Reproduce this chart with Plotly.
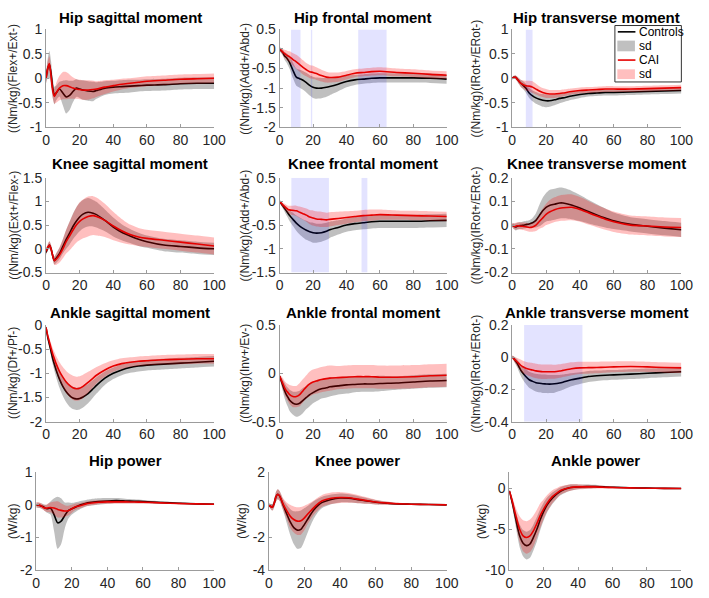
import plotly.graph_objects as go

W, H = 709, 598

# common sampling of the gait-cycle percentage
X = [0, 1, 2, 3, 4, 5, 6, 8, 10, 12, 14, 16, 18, 20, 22, 25, 28, 30, 35, 40, 45, 50, 55, 60, 70, 80, 90, 100]

titles = ["Hip sagittal moment", "Hip frontal moment", "Hip transverse moment",
          "Knee sagittal moment", "Knee frontal moment", "Knee transverse moment",
          "Ankle sagittal moment", "Ankle frontal moment", "Ankle transverse moment",
          "Hip power", "Knee power", "Ankle power"]
ylabels = ["((Nm/kg)(Flex+/Ext-)", "((Nm/kg)(Add+/Abd-)", "((Nm/kg)(IRot+/ERot-)",
           "((Nm/kg)(Ext+/Flex-)", "((Nm/kg)(Add+/Abd-)", "((Nm/kg)(IRot+/ERot-)",
           "((Nm/kg)(Df+/Pf-)", "((Nm/kg)(Inv+/Ev-)", "((Nm/kg)(IRot+/ERot-)",
           "(W/kg)", "(W/kg)", "(W/kg)"]
yranges = [[-1, 1], [-2, 0.5], [-1, 1],
           [-0.5, 1.5], [-1.5, 0.5], [-0.2, 0.2],
           [-2, 0], [-0.5, 0.5], [-0.4, 0.2],
           [-2, 1], [-4, 2], [-10, 2]]
yticks = [[-1, -0.5, 0, 0.5, 1], [-2, -1.5, -1, -0.5, 0, 0.5], [-1, -0.5, 0, 0.5, 1],
          [-0.5, 0, 0.5, 1, 1.5], [-1.5, -1, -0.5, 0, 0.5], [-0.2, -0.1, 0, 0.1, 0.2],
          [-2, -1.5, -1, -0.5, 0], [-0.5, 0, 0.5], [-0.4, -0.2, 0, 0.2],
          [-2, -1, 0, 1], [-4, -2, 0, 2], [-10, -5, 0]]
xticks = [0, 20, 40, 60, 80, 100]

# ---- Hip sagittal moment
hip_sag_ctrl = [0.0, 0.2, 0.28, 0.1, -0.2, -0.35, -0.3, -0.22, -0.3, -0.38, -0.35, -0.27, -0.2, -0.22, -0.24, -0.26, -0.27, -0.25, -0.2, -0.18, -0.17, -0.16, -0.15, -0.14, -0.13, -0.11, -0.1, -0.1]
hip_sag_ctrl_sd = [0.1, 0.2, 0.28, 0.25, 0.2, 0.18, 0.15, 0.15, 0.25, 0.34, 0.3, 0.22, 0.18, 0.18, 0.2, 0.2, 0.2, 0.17, 0.14, 0.13, 0.13, 0.13, 0.12, 0.12, 0.12, 0.12, 0.12, 0.12]
hip_sag_cai = [0.0, 0.2, 0.3, 0.05, -0.25, -0.37, -0.3, -0.2, -0.15, -0.15, -0.17, -0.2, -0.22, -0.23, -0.24, -0.24, -0.23, -0.22, -0.18, -0.15, -0.12, -0.1, -0.08, -0.06, -0.04, -0.02, -0.01, 0.0]
hip_sag_cai_sd = [0.1, 0.15, 0.15, 0.15, 0.15, 0.15, 0.2, 0.25, 0.28, 0.28, 0.25, 0.22, 0.2, 0.2, 0.2, 0.2, 0.18, 0.16, 0.14, 0.12, 0.11, 0.1, 0.1, 0.1, 0.1, 0.1, 0.1, 0.1]
hip_sag_sig = []

# ---- Hip frontal moment
hip_fro_ctrl = [0.0, -0.05, -0.1, -0.18, -0.22, -0.28, -0.35, -0.55, -0.72, -0.76, -0.8, -0.86, -0.93, -0.98, -1.0, -1.0, -0.98, -0.96, -0.9, -0.83, -0.79, -0.77, -0.75, -0.74, -0.74, -0.74, -0.75, -0.77]
hip_fro_ctrl_sd = [0.05, 0.06, 0.08, 0.1, 0.12, 0.14, 0.16, 0.2, 0.22, 0.23, 0.24, 0.25, 0.26, 0.27, 0.27, 0.26, 0.24, 0.22, 0.18, 0.15, 0.13, 0.12, 0.12, 0.12, 0.12, 0.12, 0.12, 0.12]
hip_fro_cai = [0.0, -0.04, -0.08, -0.12, -0.15, -0.18, -0.2, -0.27, -0.33, -0.4, -0.47, -0.53, -0.58, -0.6, -0.63, -0.68, -0.72, -0.73, -0.72, -0.67, -0.62, -0.6, -0.58, -0.57, -0.6, -0.62, -0.65, -0.67]
hip_fro_cai_sd = [0.05, 0.06, 0.08, 0.1, 0.12, 0.13, 0.14, 0.16, 0.18, 0.18, 0.18, 0.17, 0.17, 0.17, 0.16, 0.15, 0.14, 0.13, 0.12, 0.11, 0.1, 0.1, 0.1, 0.1, 0.1, 0.1, 0.1, 0.1]
hip_fro_sig = [[6.8, 12.5], [18.7, 19.5], [47, 64]]

# ---- Hip transverse moment
hip_tra_ctrl = [0.0, 0.02, 0.02, -0.02, -0.06, -0.1, -0.13, -0.2, -0.3, -0.36, -0.4, -0.43, -0.45, -0.46, -0.46, -0.44, -0.41, -0.4, -0.36, -0.33, -0.31, -0.3, -0.29, -0.29, -0.28, -0.27, -0.26, -0.25]
hip_tra_ctrl_sd = [0.03, 0.03, 0.04, 0.05, 0.06, 0.07, 0.08, 0.09, 0.1, 0.11, 0.12, 0.12, 0.13, 0.13, 0.12, 0.11, 0.1, 0.09, 0.08, 0.07, 0.06, 0.06, 0.06, 0.06, 0.06, 0.06, 0.06, 0.06]
hip_tra_cai = [0.0, 0.02, 0.02, -0.02, -0.06, -0.1, -0.12, -0.15, -0.16, -0.18, -0.22, -0.26, -0.29, -0.31, -0.32, -0.32, -0.31, -0.3, -0.27, -0.25, -0.24, -0.23, -0.22, -0.22, -0.22, -0.21, -0.2, -0.19]
hip_tra_cai_sd = [0.03, 0.03, 0.04, 0.05, 0.06, 0.07, 0.08, 0.1, 0.11, 0.12, 0.11, 0.1, 0.09, 0.09, 0.08, 0.08, 0.07, 0.07, 0.06, 0.06, 0.06, 0.06, 0.06, 0.06, 0.06, 0.06, 0.06, 0.06]
hip_tra_sig = [[8, 12]]

# ---- Knee sagittal moment
knee_sag_ctrl = [-0.08, 0.02, 0.08, 0.0, -0.15, -0.25, -0.2, -0.1, 0.05, 0.2, 0.33, 0.47, 0.58, 0.67, 0.73, 0.77, 0.75, 0.72, 0.6, 0.46, 0.35, 0.27, 0.2, 0.15, 0.08, 0.05, 0.02, 0.0]
knee_sag_ctrl_sd = [0.05, 0.06, 0.08, 0.08, 0.08, 0.08, 0.1, 0.12, 0.15, 0.2, 0.24, 0.27, 0.29, 0.3, 0.3, 0.3, 0.28, 0.27, 0.23, 0.2, 0.17, 0.15, 0.14, 0.13, 0.13, 0.13, 0.13, 0.13]
knee_sag_cai = [-0.05, 0.03, 0.08, 0.0, -0.15, -0.25, -0.22, -0.13, 0.0, 0.15, 0.27, 0.39, 0.5, 0.58, 0.63, 0.68, 0.7, 0.68, 0.6, 0.48, 0.38, 0.3, 0.25, 0.22, 0.18, 0.14, 0.1, 0.06]
knee_sag_cai_sd = [0.06, 0.07, 0.08, 0.08, 0.08, 0.09, 0.12, 0.16, 0.2, 0.25, 0.3, 0.34, 0.37, 0.4, 0.41, 0.42, 0.41, 0.4, 0.35, 0.3, 0.25, 0.21, 0.19, 0.18, 0.18, 0.18, 0.18, 0.18]
knee_sag_sig = []

# ---- Knee frontal moment
knee_fro_ctrl = [0.0, -0.05, -0.1, -0.15, -0.2, -0.25, -0.3, -0.38, -0.46, -0.52, -0.57, -0.61, -0.64, -0.66, -0.67, -0.66, -0.63, -0.6, -0.55, -0.5, -0.47, -0.45, -0.43, -0.42, -0.42, -0.42, -0.41, -0.4]
knee_fro_ctrl_sd = [0.03, 0.04, 0.05, 0.07, 0.09, 0.1, 0.12, 0.14, 0.16, 0.18, 0.19, 0.2, 0.2, 0.21, 0.2, 0.19, 0.18, 0.17, 0.15, 0.14, 0.14, 0.14, 0.14, 0.14, 0.14, 0.14, 0.14, 0.14]
knee_fro_cai = [0.0, -0.04, -0.08, -0.11, -0.14, -0.17, -0.18, -0.19, -0.2, -0.23, -0.26, -0.29, -0.33, -0.35, -0.37, -0.38, -0.39, -0.38, -0.36, -0.34, -0.32, -0.3, -0.29, -0.28, -0.29, -0.3, -0.31, -0.32]
knee_fro_cai_sd = [0.03, 0.04, 0.05, 0.06, 0.07, 0.08, 0.09, 0.1, 0.11, 0.12, 0.13, 0.14, 0.15, 0.16, 0.16, 0.16, 0.15, 0.15, 0.14, 0.13, 0.12, 0.12, 0.12, 0.11, 0.1, 0.1, 0.1, 0.1]
knee_fro_sig = [[7, 29.5], [49, 52.5]]

# ---- Knee transverse moment
knee_tra_ctrl = [0.0, -0.005, -0.008, -0.005, -0.003, -0.002, -0.001, 0.002, 0.005, 0.01, 0.02, 0.04, 0.06, 0.075, 0.083, 0.088, 0.093, 0.093, 0.085, 0.072, 0.057, 0.043, 0.03, 0.018, 0.003, -0.005, -0.013, -0.02]
knee_tra_ctrl_sd = [0.01, 0.012, 0.015, 0.015, 0.015, 0.015, 0.015, 0.015, 0.015, 0.02, 0.03, 0.045, 0.055, 0.06, 0.065, 0.065, 0.065, 0.064, 0.06, 0.055, 0.05, 0.045, 0.04, 0.035, 0.03, 0.03, 0.03, 0.03]
knee_tra_cai = [0.0, -0.005, -0.005, -0.003, -0.003, -0.005, -0.005, -0.007, -0.01, -0.008, 0.0, 0.015, 0.03, 0.045, 0.055, 0.065, 0.071, 0.073, 0.075, 0.066, 0.052, 0.038, 0.025, 0.014, 0.0, -0.004, -0.008, -0.01]
knee_tra_cai_sd = [0.01, 0.012, 0.015, 0.015, 0.015, 0.015, 0.016, 0.017, 0.018, 0.02, 0.025, 0.03, 0.04, 0.045, 0.05, 0.052, 0.054, 0.055, 0.055, 0.052, 0.05, 0.047, 0.045, 0.043, 0.04, 0.04, 0.04, 0.04]
knee_tra_sig = []

# ---- Ankle sagittal moment
ank_sag_ctrl = [-0.05, -0.25, -0.4, -0.55, -0.7, -0.82, -0.93, -1.12, -1.27, -1.38, -1.46, -1.51, -1.53, -1.52, -1.49, -1.42, -1.32, -1.25, -1.1, -1.0, -0.93, -0.88, -0.85, -0.83, -0.81, -0.79, -0.77, -0.75]
ank_sag_ctrl_sd = [0.03, 0.05, 0.07, 0.09, 0.11, 0.13, 0.15, 0.18, 0.2, 0.22, 0.23, 0.23, 0.23, 0.23, 0.22, 0.2, 0.18, 0.17, 0.14, 0.12, 0.11, 0.11, 0.11, 0.11, 0.11, 0.11, 0.11, 0.11]
ank_sag_cai = [-0.05, -0.22, -0.35, -0.48, -0.6, -0.7, -0.8, -0.96, -1.08, -1.18, -1.25, -1.3, -1.32, -1.31, -1.27, -1.19, -1.1, -1.04, -0.93, -0.85, -0.8, -0.77, -0.75, -0.74, -0.72, -0.71, -0.7, -0.7]
ank_sag_cai_sd = [0.03, 0.06, 0.08, 0.1, 0.12, 0.14, 0.16, 0.19, 0.21, 0.23, 0.24, 0.25, 0.25, 0.25, 0.24, 0.22, 0.19, 0.17, 0.14, 0.12, 0.11, 0.1, 0.1, 0.1, 0.1, 0.1, 0.1, 0.1]
ank_sag_sig = []

# ---- Ankle frontal moment
ank_fro_ctrl = [-0.03, -0.08, -0.13, -0.18, -0.22, -0.25, -0.28, -0.31, -0.32, -0.31, -0.28, -0.25, -0.22, -0.2, -0.18, -0.16, -0.15, -0.14, -0.13, -0.12, -0.115, -0.11, -0.11, -0.105, -0.1, -0.09, -0.08, -0.075]
ank_fro_ctrl_sd = [0.02, 0.04, 0.06, 0.08, 0.09, 0.1, 0.11, 0.12, 0.13, 0.13, 0.13, 0.12, 0.12, 0.11, 0.11, 0.1, 0.1, 0.1, 0.09, 0.09, 0.08, 0.08, 0.08, 0.08, 0.07, 0.07, 0.07, 0.07]
ank_fro_cai = [-0.03, -0.07, -0.11, -0.15, -0.18, -0.2, -0.22, -0.24, -0.24, -0.22, -0.18, -0.14, -0.11, -0.09, -0.08, -0.065, -0.055, -0.05, -0.045, -0.04, -0.035, -0.035, -0.035, -0.04, -0.04, -0.035, -0.025, -0.02]
ank_fro_cai_sd = [0.02, 0.04, 0.06, 0.07, 0.08, 0.09, 0.1, 0.11, 0.11, 0.12, 0.12, 0.12, 0.13, 0.13, 0.13, 0.13, 0.13, 0.13, 0.12, 0.12, 0.12, 0.12, 0.12, 0.12, 0.12, 0.12, 0.12, 0.12]
ank_fro_sig = []

# ---- Ankle transverse moment
ank_tra_ctrl = [0.0, -0.01, -0.025, -0.04, -0.06, -0.08, -0.095, -0.12, -0.14, -0.15, -0.158, -0.162, -0.165, -0.166, -0.167, -0.165, -0.16, -0.155, -0.14, -0.13, -0.12, -0.115, -0.112, -0.11, -0.105, -0.1, -0.095, -0.09]
ank_tra_ctrl_sd = [0.01, 0.015, 0.02, 0.025, 0.03, 0.035, 0.04, 0.045, 0.05, 0.052, 0.055, 0.056, 0.057, 0.057, 0.056, 0.055, 0.05, 0.047, 0.04, 0.036, 0.034, 0.032, 0.031, 0.03, 0.03, 0.03, 0.03, 0.03]
ank_tra_cai = [0.0, -0.01, -0.02, -0.03, -0.04, -0.05, -0.058, -0.068, -0.075, -0.08, -0.085, -0.088, -0.09, -0.09, -0.09, -0.09, -0.086, -0.082, -0.072, -0.066, -0.065, -0.064, -0.062, -0.06, -0.058, -0.06, -0.064, -0.066]
ank_tra_cai_sd = [0.01, 0.015, 0.02, 0.025, 0.03, 0.035, 0.038, 0.04, 0.042, 0.044, 0.045, 0.045, 0.045, 0.045, 0.044, 0.043, 0.042, 0.041, 0.04, 0.038, 0.037, 0.036, 0.035, 0.034, 0.033, 0.032, 0.032, 0.032]
ank_tra_sig = [[7, 41.5]]

# ---- Hip power
hip_pow_ctrl = [0.0, -0.01, -0.02, -0.04, -0.06, -0.1, -0.12, -0.1, -0.3, -0.55, -0.5, -0.33, -0.18, -0.12, -0.07, 0.0, 0.05, 0.07, 0.1, 0.12, 0.13, 0.12, 0.11, 0.1, 0.07, 0.05, 0.03, 0.02]
hip_pow_ctrl_sd = [0.08, 0.08, 0.08, 0.08, 0.08, 0.1, 0.12, 0.2, 0.5, 0.8, 0.7, 0.4, 0.25, 0.18, 0.15, 0.12, 0.1, 0.1, 0.1, 0.09, 0.08, 0.07, 0.06, 0.05, 0.04, 0.03, 0.02, 0.02]
hip_pow_cai = [0.0, 0.0, -0.01, -0.04, -0.08, -0.1, -0.1, -0.08, -0.1, -0.14, -0.17, -0.19, -0.18, -0.12, -0.06, -0.02, 0.03, 0.05, 0.08, 0.09, 0.09, 0.09, 0.085, 0.08, 0.06, 0.04, 0.03, 0.02]
hip_pow_cai_sd = [0.08, 0.08, 0.08, 0.08, 0.08, 0.1, 0.12, 0.15, 0.2, 0.25, 0.22, 0.18, 0.15, 0.12, 0.1, 0.08, 0.07, 0.07, 0.06, 0.06, 0.05, 0.05, 0.04, 0.04, 0.03, 0.03, 0.02, 0.02]
hip_pow_sig = []

# ---- Knee power
knee_pow_ctrl = [0.0, -0.1, -0.15, 0.1, 0.5, 0.65, 0.55, 0.0, -0.55, -1.05, -1.4, -1.55, -1.5, -1.2, -0.85, -0.35, 0.0, 0.15, 0.33, 0.42, 0.4, 0.32, 0.24, 0.16, 0.07, 0.04, 0.02, 0.0]
knee_pow_ctrl_sd = [0.1, 0.15, 0.2, 0.25, 0.3, 0.3, 0.3, 0.35, 0.55, 0.8, 1.0, 1.15, 1.15, 1.0, 0.8, 0.55, 0.4, 0.35, 0.3, 0.28, 0.25, 0.22, 0.18, 0.14, 0.08, 0.05, 0.03, 0.02]
knee_pow_cai = [0.0, -0.1, -0.15, 0.1, 0.5, 0.65, 0.55, 0.05, -0.35, -0.7, -0.9, -1.0, -0.98, -0.8, -0.55, -0.2, 0.1, 0.25, 0.4, 0.45, 0.43, 0.35, 0.26, 0.17, 0.08, 0.04, 0.02, 0.0]
knee_pow_cai_sd = [0.1, 0.15, 0.2, 0.25, 0.3, 0.3, 0.3, 0.35, 0.5, 0.7, 0.8, 0.85, 0.85, 0.75, 0.6, 0.45, 0.38, 0.36, 0.35, 0.33, 0.3, 0.25, 0.2, 0.15, 0.08, 0.05, 0.03, 0.02]
knee_pow_sig = []

# ---- Ankle power
ank_pow_ctrl = [-0.3, -1.1, -2.0, -3.0, -4.0, -5.0, -5.8, -6.7, -7.0, -6.8, -6.0, -5.0, -3.8, -2.8, -2.0, -1.2, -0.6, -0.3, 0.1, 0.2, 0.25, 0.25, 0.2, 0.15, 0.1, 0.05, 0.02, 0.0]
ank_pow_ctrl_sd = [0.2, 0.4, 0.6, 0.8, 1.0, 1.2, 1.4, 1.6, 1.7, 1.7, 1.6, 1.5, 1.3, 1.1, 0.9, 0.7, 0.55, 0.5, 0.4, 0.3, 0.25, 0.2, 0.15, 0.12, 0.08, 0.05, 0.03, 0.02]
ank_pow_cai = [-0.3, -1.0, -1.8, -2.7, -3.5, -4.3, -5.0, -5.8, -6.0, -5.8, -5.2, -4.3, -3.3, -2.5, -1.8, -1.0, -0.5, -0.2, 0.1, 0.2, 0.2, 0.2, 0.16, 0.12, 0.08, 0.04, 0.02, 0.0]
ank_pow_cai_sd = [0.2, 0.4, 0.6, 0.8, 1.0, 1.3, 1.6, 1.9, 2.0, 2.0, 1.9, 1.7, 1.5, 1.2, 1.0, 0.8, 0.6, 0.5, 0.4, 0.3, 0.25, 0.2, 0.15, 0.12, 0.08, 0.05, 0.03, 0.02]
ank_pow_sig = []

panels = [
    (hip_sag_ctrl, hip_sag_ctrl_sd, hip_sag_cai, hip_sag_cai_sd, hip_sag_sig),
    (hip_fro_ctrl, hip_fro_ctrl_sd, hip_fro_cai, hip_fro_cai_sd, hip_fro_sig),
    (hip_tra_ctrl, hip_tra_ctrl_sd, hip_tra_cai, hip_tra_cai_sd, hip_tra_sig),
    (knee_sag_ctrl, knee_sag_ctrl_sd, knee_sag_cai, knee_sag_cai_sd, knee_sag_sig),
    (knee_fro_ctrl, knee_fro_ctrl_sd, knee_fro_cai, knee_fro_cai_sd, knee_fro_sig),
    (knee_tra_ctrl, knee_tra_ctrl_sd, knee_tra_cai, knee_tra_cai_sd, knee_tra_sig),
    (ank_sag_ctrl, ank_sag_ctrl_sd, ank_sag_cai, ank_sag_cai_sd, ank_sag_sig),
    (ank_fro_ctrl, ank_fro_ctrl_sd, ank_fro_cai, ank_fro_cai_sd, ank_fro_sig),
    (ank_tra_ctrl, ank_tra_ctrl_sd, ank_tra_cai, ank_tra_cai_sd, ank_tra_sig),
    (hip_pow_ctrl, hip_pow_ctrl_sd, hip_pow_cai, hip_pow_cai_sd, hip_pow_sig),
    (knee_pow_ctrl, knee_pow_ctrl_sd, knee_pow_cai, knee_pow_cai_sd, knee_pow_sig),
    (ank_pow_ctrl, ank_pow_ctrl_sd, ank_pow_cai, ank_pow_cai_sd, ank_pow_sig),
]

# ---- layout geometry (pixels)
col_x = [(43, 215), (282, 453), (520, 693)]
col_x_last = [(33, 215), (271, 453), (517, 693)]
row_y = [(22, 122.5), (174.3, 271.8), (325.7, 425), (477, 577.5)]
title_y = [10, 160, 313, 465]
ylab_x = [10, 247, 483]
ylab_x_last = [9, 244, 489]

FONT = "Arial, Liberation Sans, Helvetica, sans-serif"
TXT = "#262626"
AX = "#9c9c9c"
GRAY_FILL = "rgba(128,128,128,0.5)"
RED_FILL = "rgba(255,0,0,0.25)"
BLUE_FILL = "rgba(0,0,255,0.11)"
RED = "#e60000"


def px(x):
    return x / W


def py(y):
    return 1 - y / H


fig = go.Figure()
annotations = []
layout_axes = {}

for i, (ctrl, ctrl_sd, cai, cai_sd, sig) in enumerate(panels):
    r, c = divmod(i, 3)
    n = i + 1
    xa = "x" if n == 1 else f"x{n}"
    ya = "y" if n == 1 else f"y{n}"
    xr = col_x_last[c] if r == 3 else col_x[c]
    yr = row_y[r]
    lo, hi = yranges[i]

    common = dict(xaxis=xa, yaxis=ya, showlegend=False, hoverinfo="skip")
    line_kw = dict(shape="spline", smoothing=0.7)

    # Controls sd band
    fig.add_trace(go.Scatter(x=X, y=[m - s for m, s in zip(ctrl, ctrl_sd)], mode="lines",
                             line=dict(width=0, color=GRAY_FILL, **line_kw), **common))
    fig.add_trace(go.Scatter(x=X, y=[m + s for m, s in zip(ctrl, ctrl_sd)], mode="lines",
                             fill="tonexty", fillcolor=GRAY_FILL,
                             line=dict(width=0, color=GRAY_FILL, **line_kw), **common))
    # Controls mean
    fig.add_trace(go.Scatter(x=X, y=ctrl, mode="lines",
                             line=dict(width=1.6, color="black", **line_kw), **common))
    # significance regions
    for a, b in sig:
        fig.add_trace(go.Scatter(x=[a, b, b, a, a], y=[lo, lo, hi, hi, lo], mode="lines",
                                 fill="toself", fillcolor=BLUE_FILL,
                                 line=dict(width=0, color=BLUE_FILL), **common))
    # CAI sd band
    fig.add_trace(go.Scatter(x=X, y=[m - s for m, s in zip(cai, cai_sd)], mode="lines",
                             line=dict(width=0, color=RED_FILL, **line_kw), **common))
    fig.add_trace(go.Scatter(x=X, y=[m + s for m, s in zip(cai, cai_sd)], mode="lines",
                             fill="tonexty", fillcolor=RED_FILL,
                             line=dict(width=0, color=RED_FILL, **line_kw), **common))
    # CAI mean
    fig.add_trace(go.Scatter(x=X, y=cai, mode="lines",
                             line=dict(width=1.6, color=RED, **line_kw), **common))

    axis_style = dict(showgrid=False, zeroline=False, showline=True, linecolor=AX, linewidth=1,
                      ticks="inside", ticklen=3, tickcolor=AX, mirror=False,
                      tickfont=dict(family=FONT, size=14, color=TXT), fixedrange=True)
    layout_axes[f"xaxis{n}"] = dict(domain=[px(xr[0]), px(xr[1])], anchor=ya, range=[0, 100],
                                    tickvals=xticks, ticktext=[f"{v:g}" for v in xticks],
                                    **axis_style)
    layout_axes[f"yaxis{n}"] = dict(domain=[py(yr[1]), py(yr[0])], anchor=xa, range=[lo, hi],
                                    tickvals=yticks[i], ticktext=[f"{v:g}" for v in yticks[i]],
                                    **axis_style)

    annotations.append(dict(text=f"<b>{titles[i]}</b>", xref="paper", yref="paper",
                            x=px((xr[0] + xr[1]) / 2), y=py(title_y[r]), xanchor="center",
                            yanchor="middle", showarrow=False,
                            font=dict(family=FONT, size=15, color="black")))
    lx = ylab_x_last[c] if r == 3 else ylab_x[c]
    annotations.append(dict(text=ylabels[i], xref="paper", yref="paper",
                            x=px(lx), y=py((yr[0] + yr[1]) / 2), xanchor="center",
                            yanchor="middle", textangle=-90, showarrow=False,
                            font=dict(family=FONT, size=12, color=TXT)))

# ---- legend (drawn in the Hip transverse panel corner)
legend_labels = ["Controls", "sd", "CAI", "sd"]
shapes = [dict(type="rect", xref="paper", yref="paper", x0=px(625), x1=px(693),
               y0=py(76), y1=py(18), line=dict(color="#333333", width=1), fillcolor="white",
               layer="above")]
leg_rows = [24.5, 39, 53.5, 68]
shapes.append(dict(type="line", xref="paper", yref="paper", x0=px(628), x1=px(646),
                   y0=py(leg_rows[0]), y1=py(leg_rows[0]), line=dict(color="black", width=1.6),
                   layer="above"))
shapes.append(dict(type="rect", xref="paper", yref="paper", x0=px(627.5), x1=px(645.5),
                   y0=py(leg_rows[1] + 5.5), y1=py(leg_rows[1] - 5.5), line=dict(width=0),
                   fillcolor="#c0c0c0", layer="above"))
shapes.append(dict(type="line", xref="paper", yref="paper", x0=px(628), x1=px(646),
                   y0=py(leg_rows[2]), y1=py(leg_rows[2]), line=dict(color=RED, width=1.6),
                   layer="above"))
shapes.append(dict(type="rect", xref="paper", yref="paper", x0=px(627.5), x1=px(645.5),
                   y0=py(leg_rows[3] + 5), y1=py(leg_rows[3] - 5), line=dict(width=0),
                   fillcolor="#ffbfbf", layer="above"))
for lab, yy in zip(legend_labels, leg_rows):
    annotations.append(dict(text=lab, xref="paper", yref="paper", x=px(648), y=py(yy),
                            xanchor="left", yanchor="middle", showarrow=False,
                            font=dict(family=FONT, size=12, color="black")))

fig.update_layout(width=W, height=H, margin=dict(l=0, r=0, t=0, b=0), autosize=False,
                  paper_bgcolor="white", plot_bgcolor="white", showlegend=False,
                  annotations=annotations, shapes=shapes, **layout_axes)

fig.write_html("out.html")
